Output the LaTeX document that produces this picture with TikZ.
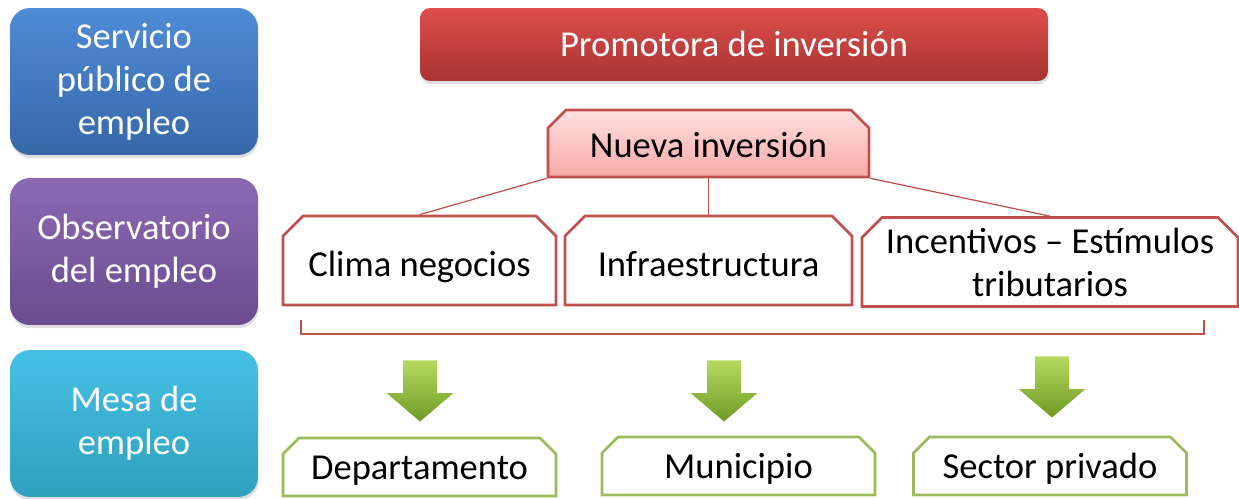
\documentclass[tikz,border=0pt]{standalone}
\usepackage{fontspec}
\setmainfont{Carlito}
\usetikzlibrary{shapes.misc,shadows}

\definecolor{blueTop}{HTML}{4F8BD6}
\definecolor{blueBot}{HTML}{3668A8}
\definecolor{purpleTop}{HTML}{8B69B4}
\definecolor{purpleBot}{HTML}{6B4C8E}
\definecolor{cyanTop}{HTML}{45C0E4}
\definecolor{cyanBot}{HTML}{30A0BE}
\definecolor{redTop}{HTML}{DE4E4B}
\definecolor{redBot}{HTML}{A83331}
\definecolor{redLine}{HTML}{C0504D}
\definecolor{pinkTop}{HTML}{FFE0E0}
\definecolor{pinkBot}{HTML}{F7A9A7}
\definecolor{greenLine}{HTML}{9BBB59}
\definecolor{greenTop}{HTML}{B5DA5E}
\definecolor{greenBot}{HTML}{6F9A25}

\tikzset{
  bigfont/.style={font=\fontsize{20.8}{24.5}\selectfont},
  lane/.style={rounded corners=0.4cm, minimum width=4.96cm, minimum height=2.94cm,
    align=center, text=white, bigfont,
    drop shadow={opacity=0.25, shadow xshift=0.4pt, shadow yshift=-1.8pt}},
  topic/.style={chamfered rectangle, chamfered rectangle corners={north west,north east},
    chamfered rectangle xsep=0.2cm, chamfered rectangle ysep=0.2cm,
    draw=redLine, line width=1.5pt, fill=white, align=center, inner sep=0pt, bigfont},
  target/.style={chamfered rectangle, chamfered rectangle corners={north west,north east},
    chamfered rectangle xsep=0.16cm, chamfered rectangle ysep=0.16cm,
    draw=greenLine, line width=1.5pt, fill=white, align=center, inner sep=0pt,
    minimum width=5.46cm, minimum height=1.16cm, text height=0.52cm, text depth=0cm, bigfont},
  link/.style={draw=redLine, line width=0.7pt},
  downarrow/.pic={
    \shade[top color=greenTop, bottom color=greenBot]
      (-17,-30.5) -- (17,-30.5) -- (17,2) -- (33.5,2) -- (0,30.5)
      -- (-33.5,2) -- (-17,2) -- cycle;
  }
}

\begin{document}
\begin{tikzpicture}[x=0.02cm,y=-0.02cm]
\useasboundingbox (0,0) rectangle (1239,499);

% left column
\node[lane, top color=blueTop, bottom color=blueBot] (servicio) at (134,81.5) {Servicio\\público de\\empleo};
\node[lane, top color=purpleTop, bottom color=purpleBot] (observatorio) at (134,251.5) {Observatorio\\del empleo};
\node[lane, top color=cyanTop, bottom color=cyanBot] (mesa) at (134,423.5) {Mesa de\\empleo};

% investment
\node[rounded corners=0.2cm, minimum width=12.56cm, minimum height=1.46cm, text=white,
  top color=redTop, bottom color=redBot, bigfont, text height=0.5cm, text depth=0cm,
  drop shadow={opacity=0.25, shadow xshift=0.4pt, shadow yshift=-1.8pt}] (promotora) at (734,44.5) {Promotora de inversión};
\node[topic, top color=pinkTop, bottom color=pinkBot, minimum width=6.42cm, minimum height=1.34cm,
  text height=0.58cm, text depth=0cm, chamfered rectangle xsep=0.18cm, chamfered rectangle ysep=0.18cm] (nueva) at (708.5,143.5) {Nueva inversión};

\node[topic, minimum width=5.46cm, minimum height=1.78cm, text height=0.66cm, text depth=0cm] (clima) at (419.5,260.5) {Clima negocios};
\node[topic, minimum width=5.74cm, minimum height=1.78cm, text height=0.66cm, text depth=0cm] (infra) at (708.5,260.5) {Infraestructura};
\node[topic, minimum width=7.52cm, minimum height=1.78cm] (incentivos) at (1050,262) {Incentivos -- Estímulos\\tributarios};

\path[link] (nueva.south west) -- (clima.north);
\path[link] (nueva.south) -- (infra.north);
\path[link] (nueva.south east) -- (incentivos.north);

% bracket
\coordinate (bl) at (301,320);
\coordinate (br) at (1204,320);
\path[link] (bl) -- ++(0,14) -| (br);

% arrows and targets
\pic at (420,391) {downarrow};
\pic at (724,391) {downarrow};
\pic at (1052,387) {downarrow};

\node[target] (depto) at (419.5,467) {Departamento};
\node[target] (muni) at (738.5,466) {Municipio};
\node[target] (sector) at (1050,466) {Sector privado};
\end{tikzpicture}
\end{document}
